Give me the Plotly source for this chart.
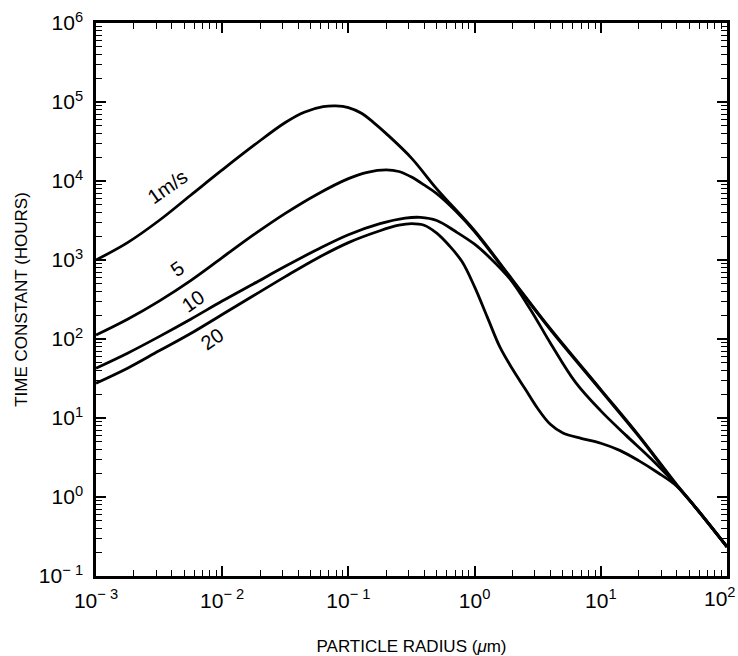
import numpy as np
import plotly.graph_objects as go

# ---- data, stored as log10 values ----
# log10(particle radius / um) and log10(time constant / hours)
lr_1 = [-3.0, -2.75, -2.5, -2.25, -2.0, -1.75, -1.5, -1.35, -1.2, -1.1, -1.0, -0.9, -0.8,
        -0.7, -0.5, -0.3, 0.0, 0.3, 0.6, 1.0, 1.3, 1.6, 1.75, 2.0]
lt_1 = [3.00, 3.22, 3.50, 3.82, 4.14, 4.45, 4.74, 4.87, 4.94, 4.95, 4.93, 4.86, 4.74,
        4.60, 4.29, 3.90, 3.37, 2.75, 2.13, 1.36, 0.78, 0.16, -0.13, -0.63]

lr_5 = [-3.0, -2.75, -2.5, -2.25, -2.0, -1.75, -1.5, -1.25, -1.0, -0.85, -0.7, -0.6, -0.5,
        -0.4, -0.3, -0.15, 0.0, 0.3, 0.6, 1.0, 1.3, 1.6, 1.75, 2.0]
lt_5 = [2.05, 2.25, 2.48, 2.74, 3.03, 3.32, 3.59, 3.83, 4.03, 4.11, 4.14, 4.12, 4.05,
        3.95, 3.84, 3.62, 3.36, 2.74, 2.12, 1.35, 0.77, 0.15, -0.13, -0.63]

lr_10 = [-3.0, -2.75, -2.5, -2.25, -2.0, -1.75, -1.5, -1.25, -1.0, -0.75, -0.55, -0.43, -0.3,
         -0.15, 0.0, 0.12, 0.28, 0.44, 0.6, 0.8, 1.0, 1.2, 1.4, 1.6, 1.75, 2.0]
lt_10 = [1.63, 1.82, 2.03, 2.25, 2.48, 2.70, 2.92, 3.13, 3.32, 3.46, 3.53, 3.54, 3.50,
         3.36, 3.20, 3.03, 2.76, 2.38, 1.95, 1.45, 1.09, 0.78, 0.48, 0.15, -0.13, -0.63]

lr_20 = [-3.0, -2.75, -2.5, -2.25, -2.0, -1.75, -1.5, -1.25, -1.0, -0.75, -0.6, -0.5, -0.4,
         -0.3, -0.2, -0.1, 0.0, 0.1, 0.2, 0.3, 0.4, 0.5, 0.6, 0.7, 0.85, 1.0, 1.15, 1.3,
         1.45, 1.6, 1.75, 2.0]
lt_20 = [1.44, 1.63, 1.85, 2.07, 2.31, 2.55, 2.79, 3.02, 3.22, 3.37, 3.44, 3.46, 3.44,
         3.34, 3.18, 2.98, 2.66, 2.28, 1.90, 1.62, 1.37, 1.12, 0.92, 0.81, 0.74, 0.68, 0.59, 0.46,
         0.31, 0.14, -0.13, -0.63]

curve_labels = ["1m/s", "5", "10", "20"]
label_lr = [-2.437, -2.358, -2.23, -2.08]
label_lt = [3.92, 2.88, 2.48, 2.0]

x_tickvals = [1e-3, 1e-2, 1e-1, 1e0, 1e1, 1e2]
x_ticktext = ["10<sup>\u2212 3</sup>", "10<sup>\u2212 2</sup>", "10<sup>\u2212 1</sup>",
              "10<sup>0</sup>", "10<sup>1</sup>", ""]
x_last_label = "10<sup>2</sup>"
y_tickvals = [1e-1, 1e0, 1e1, 1e2, 1e3, 1e4, 1e5, 1e6]
y_ticktext = ["10<sup>\u2212 1</sup>", "10<sup>0</sup>", "10<sup>1</sup>", "10<sup>2</sup>",
              "10<sup>3</sup>", "10<sup>4</sup>", "10<sup>5</sup>", "10<sup>6</sup>"]

minor_x = [m * 10.0 ** e for e in range(-3, 2) for m in range(2, 10)]
minor_y = [m * 10.0 ** e for e in range(-1, 6) for m in range(2, 10)]

fig = go.Figure()
for lr, lt in [(lr_1, lt_1), (lr_5, lt_5), (lr_10, lt_10), (lr_20, lt_20)]:
    fig.add_trace(go.Scatter(x=10.0 ** np.array(lr), y=10.0 ** np.array(lt), mode="lines",
                             line=dict(color="black", width=2.8, shape="spline", smoothing=1.0),
                             showlegend=False, hoverinfo="skip"))

# annotations on log axes take log10 coordinates
for txt, ax_, ay_ in zip(curve_labels, label_lr, label_lt):
    fig.add_annotation(x=ax_, y=ay_, xref="x", yref="y", text=txt, showarrow=False,
                       textangle=-35, font=dict(family="Liberation Sans, Arial", size=20, color="black"))

font = dict(family="Liberation Sans, Arial", size=21, color="black")

# last x tick label, kept inside the page
fig.add_annotation(x=np.log10(x_tickvals[-1]), y=0, xref="x", yref="paper", text=x_last_label,
                   showarrow=False, xanchor="right", yanchor="top", xshift=11, yshift=-6, font=font)

axis_common = dict(type="log", showgrid=False, zeroline=False, showline=True, linecolor="black",
                   linewidth=2.5, mirror="allticks", ticks="inside", ticklen=10, tickwidth=1.5,
                   tickcolor="black", tickfont=font, ticklabeloverflow="allow", automargin=False)

fig.update_xaxes(range=[-3, 2], tickvals=x_tickvals, ticktext=x_ticktext, ticklabelstandoff=4,
                 minor=dict(tickvals=minor_x, ticks="inside", ticklen=6, tickwidth=1.2, tickcolor="black"),
                 title=dict(text="PARTICLE RADIUS (<i>\u03bc</i>m)",
                            font=dict(family="Liberation Sans, Arial", size=17, color="black"),
                            standoff=30),
                 **axis_common)
fig.update_yaxes(range=[-1, 6], tickvals=y_tickvals, ticktext=y_ticktext, ticklabelstandoff=6,
                 minor=dict(tickvals=minor_y, ticks="inside", ticklen=6, tickwidth=1.2, tickcolor="black"),
                 title=dict(text="TIME CONSTANT (HOURS)",
                            font=dict(family="Liberation Sans, Arial", size=17, color="black"),
                            standoff=7),
                 **axis_common)

fig.update_layout(width=738, height=656, margin=dict(l=96, r=11, t=23, b=80),
                  paper_bgcolor="white", plot_bgcolor="white")

fig.write_html("out.html")
